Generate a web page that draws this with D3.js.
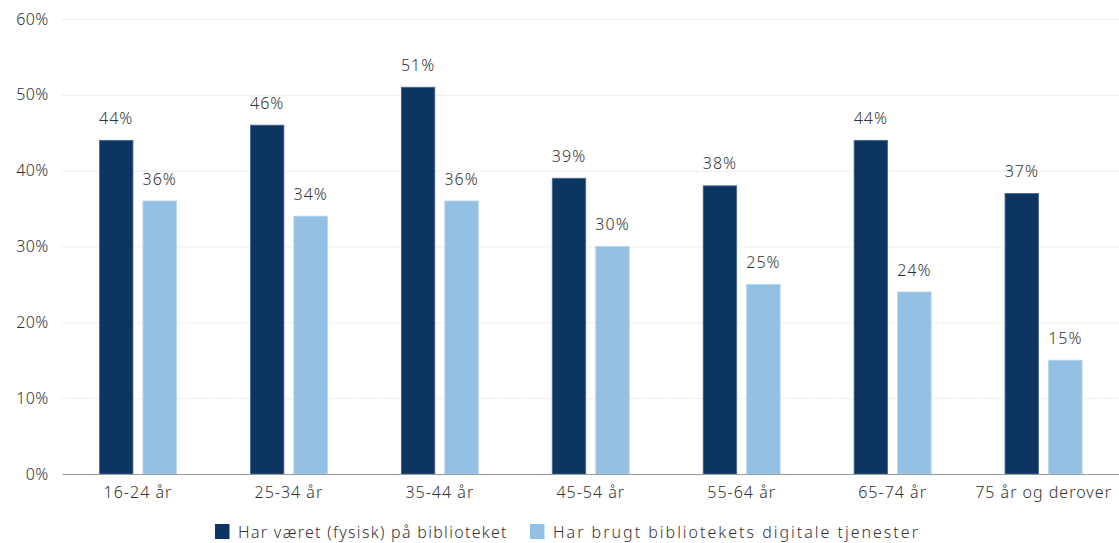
<!DOCTYPE html>
<html><head><meta charset="utf-8">
<script src="https://cdn.jsdelivr.net/npm/d3@7"></script>
<style>body{margin:0;background:#fff;font-family:"Noto Sans",sans-serif;} text{font-weight:300;}</style>
</head><body><svg id="c" width="1119" height="543"></svg>
<script>
const categories = ["16-24 år","25-34 år","35-44 år","45-54 år","55-64 år","65-74 år","75 år og derover"];
const seriesNames = ["Har været (fysisk) på biblioteket","Har brugt bibliotekets digitale tjenester"];
const physical = [44,46,51,39,38,44,37];
const digital = [36,34,36,30,25,24,15];
const yTicks = [0,10,20,30,40,50,60];
const colors = ["#0d3561","#94c1e3"];

const svg = d3.select("#c");
const m = {l:62.5, r:0, t:19, b:69};
const W = 1119, H = 543;
const x = d3.scaleBand().domain(categories).range([m.l, W-m.r]).paddingInner(0).paddingOuter(0);
const y = d3.scaleLinear().domain([0,60]).range([H-m.b, m.t]);
const textCol = "#333";

// gridlines
svg.append("g").selectAll("line").data(yTicks.filter(d=>d>0)).join("line")
  .attr("x1", m.l).attr("x2", W).attr("y1", d=>y(d)+0.5).attr("y2", d=>y(d)+0.5)
  .attr("stroke","#e6e6e6").attr("stroke-width",1).attr("stroke-dasharray","2,1");

// y axis labels
const yAxis = d3.axisLeft(y).tickValues(yTicks).tickFormat(d=>d+"%").tickSize(0).tickPadding(14);
const ya = svg.append("g").attr("transform",`translate(${m.l},0)`).call(yAxis);
ya.select(".domain").remove();
ya.selectAll("text").attr("font-size",16).attr("fill",textCol).attr("font-family","Noto Sans").attr("letter-spacing","0.3px");

const series = [physical, digital];
const bw = 33.5, gap = 10;
series.forEach((vals, si) => {
  const g = svg.append("g");
  const xo = d => x(d) + x.bandwidth()/2 + (si===0 ? -(gap/2+bw) : gap/2);
  g.selectAll("rect").data(categories).join("rect")
    .attr("x", (d)=>xo(d)).attr("width", bw)
    .attr("y", (d,i)=>y(vals[i])).attr("height",(d,i)=>y(0)-y(vals[i]))
    .attr("fill", colors[si]).attr("stroke", si===0?"#4a6a8f":"#b5d4ec").attr("stroke-width",0.8);
  g.selectAll("text").data(categories).join("text")
    .attr("x", d=>xo(d)+bw/2).attr("y",(d,i)=>y(vals[i])-16.5)
    .attr("text-anchor","middle").attr("font-size",16).attr("fill",textCol)
    .attr("letter-spacing","1px")
    .text((d,i)=>vals[i]+"%");
});

// x axis
const xAxis = d3.axisBottom(x).tickSize(0).tickPadding(13);
const xa = svg.append("g").attr("transform",`translate(0,${y(0)})`).call(xAxis);
xa.select(".domain").attr("stroke","#999").attr("stroke-width",1.2).attr("d",`M${m.l},0.5H${W}`);
xa.selectAll("text").attr("font-size",16).attr("fill",textCol).attr("font-family","Noto Sans").attr("letter-spacing","1px");

// legend
const lg = svg.append("g");
const legX = [215, 530];
const legSpacing = [1.3, 2.0];
seriesNames.forEach((n,i)=>{
  lg.append("rect").attr("x",legX[i]).attr("y",524).attr("width",14.5).attr("height",15).attr("fill",colors[i]);
  lg.append("text").attr("x",legX[i]+23).attr("y",538).attr("font-size",16).attr("fill",textCol)
    .attr("letter-spacing",legSpacing[i]+"px").text(n);
});
</script></body></html>
